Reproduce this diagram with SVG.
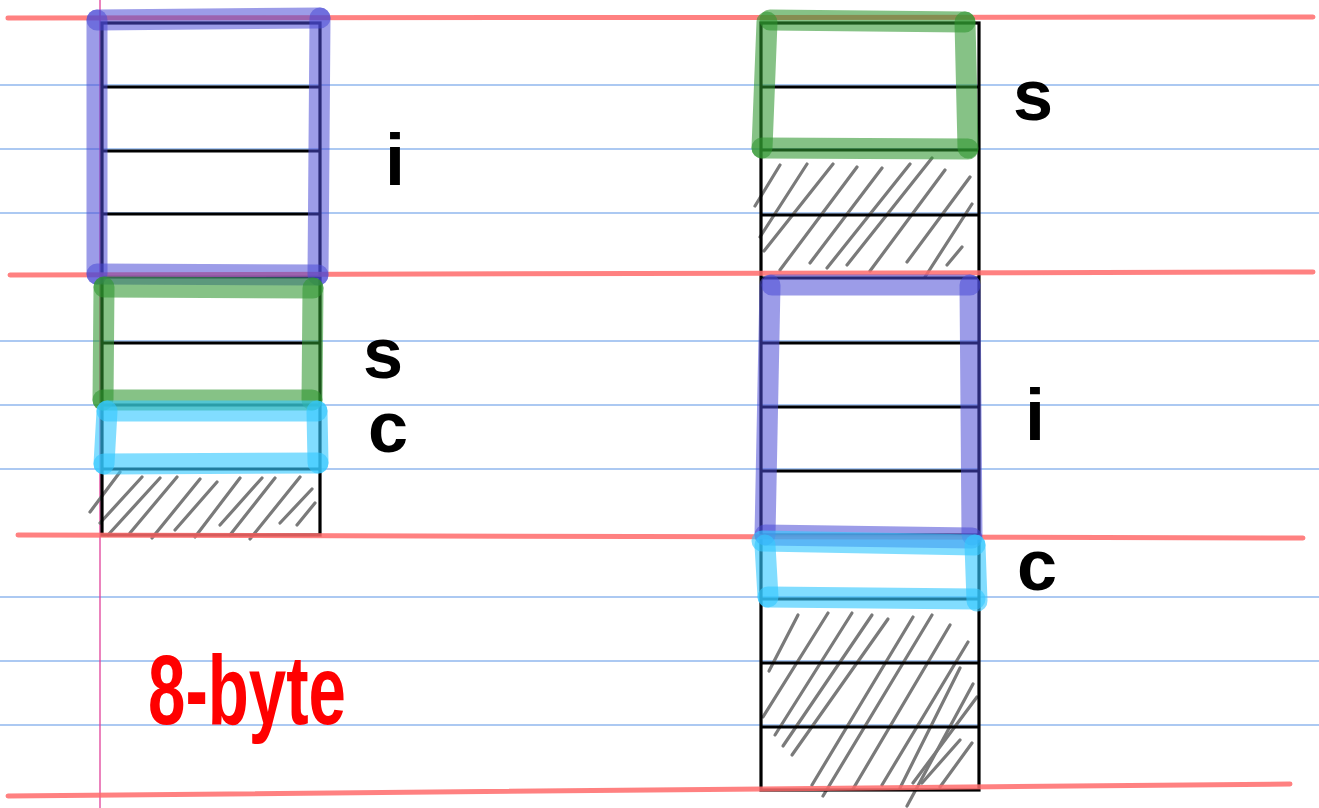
<svg xmlns="http://www.w3.org/2000/svg" width="1319" height="808" viewBox="0 0 1319 808">
<style>
.guide{stroke:#5b93e6;stroke-width:1.2}
.redl{stroke:#ff6b6b;stroke-opacity:0.85;stroke-width:5;stroke-linecap:round;fill:none}
.box{fill:none;stroke:#000;stroke-width:3.2}
.div{stroke:#000;stroke-width:3.2}
.hatch{stroke:#7a7a7a;stroke-width:3.2;stroke-linecap:round}
.hb{stroke:#4a4ad6;stroke-opacity:0.55;stroke-width:21;stroke-linecap:round;fill:none}
.hg{stroke:#2f962f;stroke-opacity:0.58;stroke-width:21;stroke-linecap:round;fill:none}
.hc{stroke:#33c8ff;stroke-opacity:0.62;stroke-width:21;stroke-linecap:round;fill:none}
.lbl{font-family:"Liberation Sans","DejaVu Sans",sans-serif;font-size:72px;font-weight:bold;fill:#000;text-anchor:middle}
.red{font-family:"Liberation Sans","DejaVu Sans",sans-serif;font-size:98px;font-weight:bold;fill:#f00}
</style>
<rect width="1319" height="808" fill="#fff"/>
<g id="paper">
<g class="guide">
<line x1="0" y1="85" x2="1319" y2="85"/>
<line x1="0" y1="149" x2="1319" y2="149"/>
<line x1="0" y1="213" x2="1319" y2="213"/>
<line x1="0" y1="341" x2="1319" y2="341"/>
<line x1="0" y1="405" x2="1319" y2="405"/>
<line x1="0" y1="469" x2="1319" y2="469"/>
<line x1="0" y1="597" x2="1319" y2="597"/>
<line x1="0" y1="661" x2="1319" y2="661"/>
<line x1="0" y1="725" x2="1319" y2="725"/>
</g>
<line x1="100" y1="0" x2="100" y2="808" stroke="#e0409a" stroke-width="1.3"/>
</g>

<g id="left-struct">
<g id="left-hatch" class="hatch">
<line x1="90" y1="512" x2="120" y2="472"/>
<line x1="100" y1="523" x2="142" y2="477"/>
<line x1="108" y1="535" x2="160" y2="478"/>
<line x1="130" y1="533" x2="177" y2="477"/>
<line x1="152" y1="538" x2="200" y2="479"/>
<line x1="175" y1="530" x2="217" y2="482"/>
<line x1="195" y1="537" x2="240" y2="478"/>
<line x1="220" y1="525" x2="262" y2="478"/>
<line x1="230" y1="535" x2="275" y2="478"/>
<line x1="250" y1="539" x2="300" y2="477"/>
<line x1="280" y1="523" x2="312" y2="489"/>
<line x1="297" y1="525" x2="315" y2="503"/>
</g>
<rect class="box" x="102" y="23" width="218" height="512"/>
<g class="div">
<line x1="102" y1="87" x2="320" y2="87"/>
<line x1="102" y1="151" x2="320" y2="151"/>
<line x1="102" y1="214" x2="320" y2="214"/>
<line x1="102" y1="277" x2="320" y2="277"/>
<line x1="102" y1="343" x2="320" y2="343"/>
<line x1="102" y1="405" x2="320" y2="405"/>
<line x1="102" y1="469" x2="320" y2="469"/>
</g>
</g>

<g id="right-struct">
<g id="right-hatch" class="hatch">
<line x1="755" y1="206" x2="780" y2="165"/>
<line x1="760" y1="237" x2="807" y2="164"/>
<line x1="764" y1="251" x2="833" y2="164"/>
<line x1="780" y1="270" x2="857" y2="167"/>
<line x1="810" y1="263" x2="882" y2="168"/>
<line x1="827" y1="268" x2="910" y2="164"/>
<line x1="847" y1="265" x2="932" y2="158"/>
<line x1="870" y1="271" x2="945" y2="170"/>
<line x1="907" y1="262" x2="970" y2="177"/>
<line x1="925" y1="277" x2="972" y2="204"/>
<line x1="947" y1="265" x2="962" y2="247"/>
<line x1="769" y1="671" x2="798" y2="615"/>
<line x1="763" y1="717" x2="828" y2="613"/>
<line x1="775" y1="735" x2="852" y2="613"/>
<line x1="783" y1="746" x2="872" y2="615"/>
<line x1="792" y1="755" x2="888" y2="619"/>
<line x1="812" y1="785" x2="913" y2="617"/>
<line x1="823" y1="796" x2="932" y2="615"/>
<line x1="853" y1="789" x2="950" y2="625"/>
<line x1="882" y1="785" x2="968" y2="642"/>
<line x1="900" y1="788" x2="960" y2="668"/>
<line x1="907" y1="806" x2="973" y2="684"/>
<line x1="913" y1="783" x2="977" y2="697"/>
<line x1="922" y1="783" x2="960" y2="740"/>
<line x1="940" y1="787" x2="972" y2="743"/>
</g>
<rect class="box" x="761" y="23" width="218" height="767"/>
<g class="div">
<line x1="761" y1="87" x2="979" y2="87"/>
<line x1="761" y1="150" x2="979" y2="150"/>
<line x1="761" y1="215" x2="979" y2="215"/>
<line x1="761" y1="278" x2="979" y2="278"/>
<line x1="761" y1="343" x2="979" y2="343"/>
<line x1="761" y1="407" x2="979" y2="407"/>
<line x1="761" y1="471" x2="979" y2="471"/>
<line x1="761" y1="535" x2="979" y2="535"/>
<line x1="761" y1="599" x2="979" y2="599"/>
<line x1="761" y1="663" x2="979" y2="663"/>
<line x1="761" y1="727" x2="979" y2="727"/>
</g>
</g>

<g id="margins">
<line class="redl" x1="8" y1="18" x2="1313" y2="17"/>
<line class="redl" x1="10" y1="275" x2="1313" y2="272"/>
<line class="redl" x1="18" y1="535" x2="1303" y2="538"/>
<line class="redl" x1="8" y1="796" x2="1290" y2="784"/>
</g>

<g id="left-i" class="hb">
<line x1="97" y1="20" x2="320" y2="18"/>
<line x1="320" y1="18" x2="318" y2="275"/>
<line x1="318" y1="275" x2="97" y2="274"/>
<line x1="97" y1="274" x2="97" y2="20"/>
</g>
<g id="left-s" class="hg">
<line x1="104" y1="287" x2="313" y2="288"/>
<line x1="313" y1="288" x2="312" y2="400"/>
<line x1="312" y1="400" x2="103" y2="400"/>
<line x1="103" y1="400" x2="104" y2="287"/>
</g>
<g id="left-c" class="hc">
<line x1="107" y1="411" x2="317" y2="411"/>
<line x1="317" y1="411" x2="318" y2="463"/>
<line x1="318" y1="463" x2="104" y2="464"/>
<line x1="104" y1="464" x2="107" y2="411"/>
</g>

<g id="right-s" class="hg">
<line x1="770" y1="20" x2="965" y2="22"/>
<line x1="965" y1="22" x2="968" y2="148"/>
<line x1="968" y1="149" x2="762" y2="148"/>
<line x1="762" y1="148" x2="767" y2="22"/>
</g>
<g id="right-i" class="hb">
<line x1="772" y1="285" x2="970" y2="285"/>
<line x1="970" y1="285" x2="972" y2="535"/>
<line x1="972" y1="538" x2="765" y2="535"/>
<line x1="765" y1="535" x2="770" y2="285"/>
</g>
<g id="right-c" class="hc">
<line x1="762" y1="541" x2="975" y2="545"/>
<line x1="975" y1="545" x2="977" y2="601"/>
<line x1="975" y1="599" x2="768" y2="597"/>
<line x1="768" y1="597" x2="765" y2="545"/>
</g>

<g id="labels">
<text class="lbl" x="395" y="185">i</text>
<text class="lbl" x="383" y="378">s</text>
<text class="lbl" x="388" y="452">c</text>
<text class="lbl" x="1033" y="120">s</text>
<text class="lbl" x="1035" y="440">i</text>
<text class="lbl" x="1037" y="590">c</text>
</g>
<g id="caption">
<text class="red" x="148" y="724" textLength="198" lengthAdjust="spacingAndGlyphs">8-byte</text>
</g>
</svg>
